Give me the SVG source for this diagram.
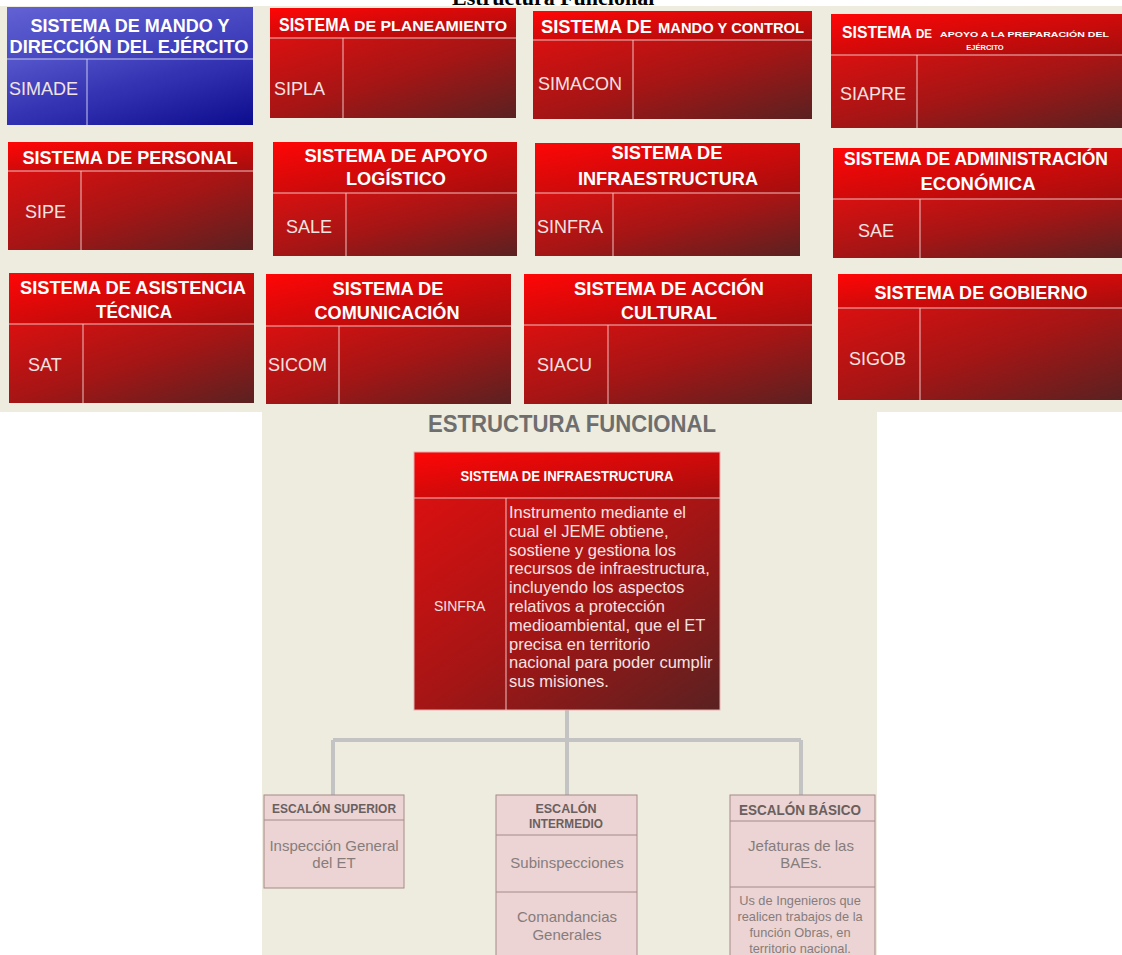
<svg xmlns="http://www.w3.org/2000/svg" width="1122" height="955" viewBox="0 0 1122 955">
<defs>
<linearGradient id="rh" x1="0" y1="0" x2="1" y2="1"><stop offset="0" stop-color="#ff0606"/><stop offset="1" stop-color="#a40e0e"/></linearGradient>
<linearGradient id="rb" x1="0" y1="0" x2="1" y2="1"><stop offset="0" stop-color="#da1010"/><stop offset="0.5" stop-color="#a51515"/><stop offset="1" stop-color="#5a2121"/></linearGradient>
<linearGradient id="bh" x1="0" y1="0" x2="1" y2="1"><stop offset="0" stop-color="#6262d4"/><stop offset="1" stop-color="#3434b4"/></linearGradient>
<linearGradient id="bb" x1="0" y1="0" x2="1" y2="1"><stop offset="0" stop-color="#5656cc"/><stop offset="0.5" stop-color="#3030b0"/><stop offset="1" stop-color="#0c0c8e"/></linearGradient>
<style>
.t{font-family:"Liberation Sans",Arial,sans-serif;font-weight:bold;fill:#ffffff;font-size:19px;text-anchor:middle}
.ts{font-family:"Liberation Sans",Arial,sans-serif;font-weight:bold;fill:#ffffff}
.l{font-family:"Liberation Sans",Arial,sans-serif;font-size:18px;fill:#f3e2e2}
.d{stroke:#efc0c0;stroke-width:1;fill:none}
.db{stroke:#c8c8f0;stroke-width:1;fill:none}
.desc{font-family:"Liberation Sans",Arial,sans-serif;font-size:16.5px;fill:#f6e2e2}
.pb{fill:#ebd4d3;stroke:#a68a8a;stroke-width:1}
.pd{stroke:#a68a8a;stroke-width:1}
.ph{font-family:"Liberation Sans",Arial,sans-serif;font-weight:bold;fill:#6a5f5f;text-anchor:middle}
.pt{font-family:"Liberation Sans",Arial,sans-serif;fill:#877c7c;text-anchor:middle}
.c{stroke:#c3c3c3;stroke-width:4;fill:none}
</style>
</defs>
<rect x="0" y="0" width="1122" height="955" fill="#ffffff"/>
<rect x="0" y="6" width="1122" height="406" fill="#edecdf"/>
<rect x="262" y="412" width="615" height="543" fill="#edecdf"/>
<text x="452" y="5" font-family="'Liberation Serif','Times New Roman',serif" font-weight="bold" font-size="22" fill="#000">Estructura Funcional</text>

<g id="simade">
<rect x="7" y="59" width="246" height="66" fill="url(#bb)"/>
<rect x="7" y="7" width="246" height="52" fill="url(#bh)"/>
<line class="db" x1="7" y1="59" x2="253" y2="59"/><line class="db" x1="87" y1="59" x2="87" y2="125"/>
<text class="t" x="130" y="32" textLength="199" lengthAdjust="spacingAndGlyphs">SISTEMA DE MANDO Y</text>
<text class="t" x="129" y="53" textLength="239" lengthAdjust="spacingAndGlyphs">DIRECCIÓN DEL EJÉRCITO</text>
<text class="l" x="9" y="95">SIMADE</text>
</g>

<g id="sipla">
<rect x="270" y="38" width="246" height="80" fill="url(#rb)"/>
<rect x="270" y="8" width="246" height="30" fill="url(#rh)"/>
<line class="d" x1="270" y1="38" x2="516" y2="38"/><line class="d" x1="343" y1="38" x2="343" y2="118"/>
<text class="ts" x="279" y="31" font-size="19" textLength="71" lengthAdjust="spacingAndGlyphs">SISTEMA</text>
<text class="ts" x="354" y="31" font-size="14" textLength="153" lengthAdjust="spacingAndGlyphs">DE PLANEAMIENTO</text>
<text class="l" x="274" y="95">SIPLA</text>
</g>

<g id="simacon">
<rect x="533" y="40" width="279" height="79" fill="url(#rb)"/>
<rect x="533" y="11" width="279" height="29" fill="url(#rh)"/>
<line class="d" x1="533" y1="40" x2="812" y2="40"/><line class="d" x1="633" y1="40" x2="633" y2="119"/>
<text class="ts" x="541" y="33" font-size="19" textLength="111" lengthAdjust="spacingAndGlyphs">SISTEMA DE</text>
<text class="ts" x="658" y="33" font-size="14" textLength="146" lengthAdjust="spacingAndGlyphs">MANDO Y CONTROL</text>
<text class="l" x="538" y="90">SIMACON</text>
</g>

<g id="siapre">
<rect x="831" y="55" width="291" height="73" fill="url(#rb)"/>
<rect x="831" y="14" width="291" height="41" fill="url(#rh)"/>
<line class="d" x1="831" y1="55" x2="1122" y2="55"/><line class="d" x1="917" y1="55" x2="917" y2="128"/>
<text class="ts" y="38"><tspan x="842" font-size="16" textLength="70" lengthAdjust="spacingAndGlyphs">SISTEMA</tspan><tspan x="916" font-size="13" textLength="16" lengthAdjust="spacingAndGlyphs">DE</tspan><tspan x="940" dy="-1" font-size="7.5" textLength="169" lengthAdjust="spacingAndGlyphs">APOYO A LA PREPARACIÓN DEL</tspan></text>
<text class="ts" x="985" y="50" font-size="7.5" text-anchor="middle">EJÉRCITO</text>
<text class="l" x="840" y="100">SIAPRE</text>
</g>

<g id="sipe">
<rect x="8" y="171" width="245" height="79" fill="url(#rb)"/>
<rect x="8" y="142" width="245" height="29" fill="url(#rh)"/>
<line class="d" x1="8" y1="171" x2="253" y2="171"/><line class="d" x1="81" y1="171" x2="81" y2="250"/>
<text class="t" x="130" y="164" textLength="215" lengthAdjust="spacingAndGlyphs">SISTEMA DE PERSONAL</text>
<text class="l" x="25" y="218">SIPE</text>
</g>

<g id="sale">
<rect x="273" y="193" width="244" height="63" fill="url(#rb)"/>
<rect x="273" y="142" width="244" height="51" fill="url(#rh)"/>
<line class="d" x1="273" y1="193" x2="517" y2="193"/><line class="d" x1="346" y1="193" x2="346" y2="256"/>
<text class="t" x="396" y="162" textLength="183" lengthAdjust="spacingAndGlyphs">SISTEMA DE APOYO</text>
<text class="t" x="396" y="185" textLength="100" lengthAdjust="spacingAndGlyphs">LOGÍSTICO</text>
<text class="l" x="286" y="233">SALE</text>
</g>

<g id="sinfra">
<rect x="535" y="193" width="265" height="63" fill="url(#rb)"/>
<rect x="535" y="143" width="265" height="50" fill="url(#rh)"/>
<line class="d" x1="535" y1="193" x2="800" y2="193"/><line class="d" x1="613" y1="193" x2="613" y2="256"/>
<text class="t" x="667" y="159" textLength="111" lengthAdjust="spacingAndGlyphs">SISTEMA DE</text>
<text class="t" x="668" y="185" textLength="180" lengthAdjust="spacingAndGlyphs">INFRAESTRUCTURA</text>
<text class="l" x="537" y="233">SINFRA</text>
</g>

<g id="sae">
<rect x="833" y="199" width="289" height="59" fill="url(#rb)"/>
<rect x="833" y="148" width="289" height="51" fill="url(#rh)"/>
<line class="d" x1="833" y1="199" x2="1122" y2="199"/><line class="d" x1="920" y1="199" x2="920" y2="258"/>
<text class="t" x="976" y="165" font-size="17.5" textLength="264" lengthAdjust="spacingAndGlyphs">SISTEMA DE ADMINISTRACIÓN</text>
<text class="t" x="978" y="190" textLength="115" lengthAdjust="spacingAndGlyphs">ECONÓMICA</text>
<text class="l" x="858" y="237">SAE</text>
</g>

<g id="sat">
<rect x="9" y="324" width="245" height="79" fill="url(#rb)"/>
<rect x="9" y="273" width="245" height="51" fill="url(#rh)"/>
<line class="d" x1="9" y1="324" x2="254" y2="324"/><line class="d" x1="83" y1="324" x2="83" y2="403"/>
<text class="t" x="133" y="294" textLength="226" lengthAdjust="spacingAndGlyphs">SISTEMA DE ASISTENCIA</text>
<text class="t" x="134" y="318" textLength="76" lengthAdjust="spacingAndGlyphs">TÉCNICA</text>
<text class="l" x="28" y="371">SAT</text>
</g>

<g id="sicom">
<rect x="266" y="326" width="245" height="78" fill="url(#rb)"/>
<rect x="266" y="274" width="245" height="52" fill="url(#rh)"/>
<line class="d" x1="266" y1="326" x2="511" y2="326"/><line class="d" x1="339" y1="326" x2="339" y2="404"/>
<text class="t" x="388" y="295" textLength="111" lengthAdjust="spacingAndGlyphs">SISTEMA DE</text>
<text class="t" x="387" y="319" textLength="145" lengthAdjust="spacingAndGlyphs">COMUNICACIÓN</text>
<text class="l" x="268" y="371">SICOM</text>
</g>

<g id="siacu">
<rect x="524" y="325" width="288" height="79" fill="url(#rb)"/>
<rect x="524" y="274" width="288" height="51" fill="url(#rh)"/>
<line class="d" x1="524" y1="325" x2="812" y2="325"/><line class="d" x1="608" y1="325" x2="608" y2="404"/>
<text class="t" x="669" y="295" textLength="190" lengthAdjust="spacingAndGlyphs">SISTEMA DE ACCIÓN</text>
<text class="t" x="669" y="319" textLength="96" lengthAdjust="spacingAndGlyphs">CULTURAL</text>
<text class="l" x="537" y="371">SIACU</text>
</g>

<g id="sigob">
<rect x="838" y="308" width="284" height="92" fill="url(#rb)"/>
<rect x="838" y="274" width="284" height="34" fill="url(#rh)"/>
<line class="d" x1="838" y1="308" x2="1122" y2="308"/><line class="d" x1="920" y1="308" x2="920" y2="400"/>
<text class="t" x="981" y="299" textLength="213" lengthAdjust="spacingAndGlyphs">SISTEMA DE GOBIERNO</text>
<text class="l" x="849" y="365">SIGOB</text>
</g>

<text x="572" y="432" font-family="'Liberation Sans',Arial,sans-serif" font-weight="bold" font-size="23" fill="#6e6e6e" text-anchor="middle" textLength="288" lengthAdjust="spacingAndGlyphs">ESTRUCTURA FUNCIONAL</text>

<g id="connectors">
<line class="c" x1="567" y1="710" x2="567" y2="795"/>
<line class="c" x1="333" y1="740" x2="801" y2="740"/>
<line class="c" x1="333" y1="740" x2="333" y2="795"/>
<line class="c" x1="801" y1="740" x2="801" y2="795"/>
</g>

<g id="sinfra-main">
<rect x="414" y="498" width="306" height="212" fill="url(#rb)"/>
<rect x="414" y="452" width="306" height="46" fill="url(#rh)"/>
<rect x="414" y="452" width="306" height="258" fill="none" stroke="#e8b0b0" stroke-width="1"/>
<line class="d" x1="414" y1="498" x2="720" y2="498"/><line class="d" x1="506" y1="498" x2="506" y2="710"/>
<text class="ts" x="567" y="481" font-size="14" text-anchor="middle" textLength="213" lengthAdjust="spacingAndGlyphs">SISTEMA DE INFRAESTRUCTURA</text>
<text x="434" y="611" font-family="'Liberation Sans',Arial,sans-serif" font-size="14" fill="#f3e2e2">SINFRA</text>
<text class="desc">
<tspan x="509" y="518">Instrumento mediante el</tspan>
<tspan x="509" y="537">cual el JEME obtiene,</tspan>
<tspan x="509" y="556">sostiene y gestiona los</tspan>
<tspan x="509" y="574">recursos de infraestructura,</tspan>
<tspan x="509" y="593">incluyendo los aspectos</tspan>
<tspan x="509" y="612">relativos a protección</tspan>
<tspan x="509" y="631">medioambiental, que el ET</tspan>
<tspan x="509" y="650">precisa en territorio</tspan>
<tspan x="509" y="668">nacional para poder cumplir</tspan>
<tspan x="509" y="687">sus misiones.</tspan>
</text>
</g>

<g id="escalon-superior">
<rect class="pb" x="264" y="795" width="140" height="93"/>
<line class="pd" x1="264" y1="820" x2="404" y2="820"/>
<text class="ph" x="334" y="813" font-size="13" textLength="124" lengthAdjust="spacingAndGlyphs">ESCALÓN SUPERIOR</text>
<text class="pt" x="334" y="851" font-size="15">Inspección General</text>
<text class="pt" x="334" y="868" font-size="15">del ET</text>
</g>

<g id="escalon-intermedio">
<rect class="pb" x="496" y="795" width="141" height="170"/>
<line class="pd" x1="496" y1="835" x2="637" y2="835"/>
<line class="pd" x1="496" y1="892" x2="637" y2="892"/>
<text class="ph" x="566" y="813" font-size="12.5">ESCALÓN</text>
<text class="ph" x="566" y="828" font-size="12.5" textLength="74" lengthAdjust="spacingAndGlyphs">INTERMEDIO</text>
<text class="pt" x="567" y="868" font-size="15">Subinspecciones</text>
<text class="pt" x="567" y="922" font-size="15">Comandancias</text>
<text class="pt" x="567" y="940" font-size="15">Generales</text>
</g>

<g id="escalon-basico">
<rect class="pb" x="730" y="795" width="145" height="170"/>
<line class="pd" x1="730" y1="821" x2="875" y2="821"/>
<line class="pd" x1="730" y1="887" x2="875" y2="887"/>
<text class="ph" x="800" y="815" font-size="15" textLength="122" lengthAdjust="spacingAndGlyphs">ESCALÓN BÁSICO</text>
<text class="pt" x="801" y="851" font-size="15">Jefaturas de las</text>
<text class="pt" x="801" y="868" font-size="15">BAEs.</text>
<text class="pt" x="800" y="905" font-size="12.8">Us de Ingenieros que</text>
<text class="pt" x="800" y="921" font-size="12.8">realicen trabajos de la</text>
<text class="pt" x="800" y="937" font-size="12.8">función Obras, en</text>
<text class="pt" x="800" y="953" font-size="12.8">territorio nacional.</text>
</g>
</svg>
